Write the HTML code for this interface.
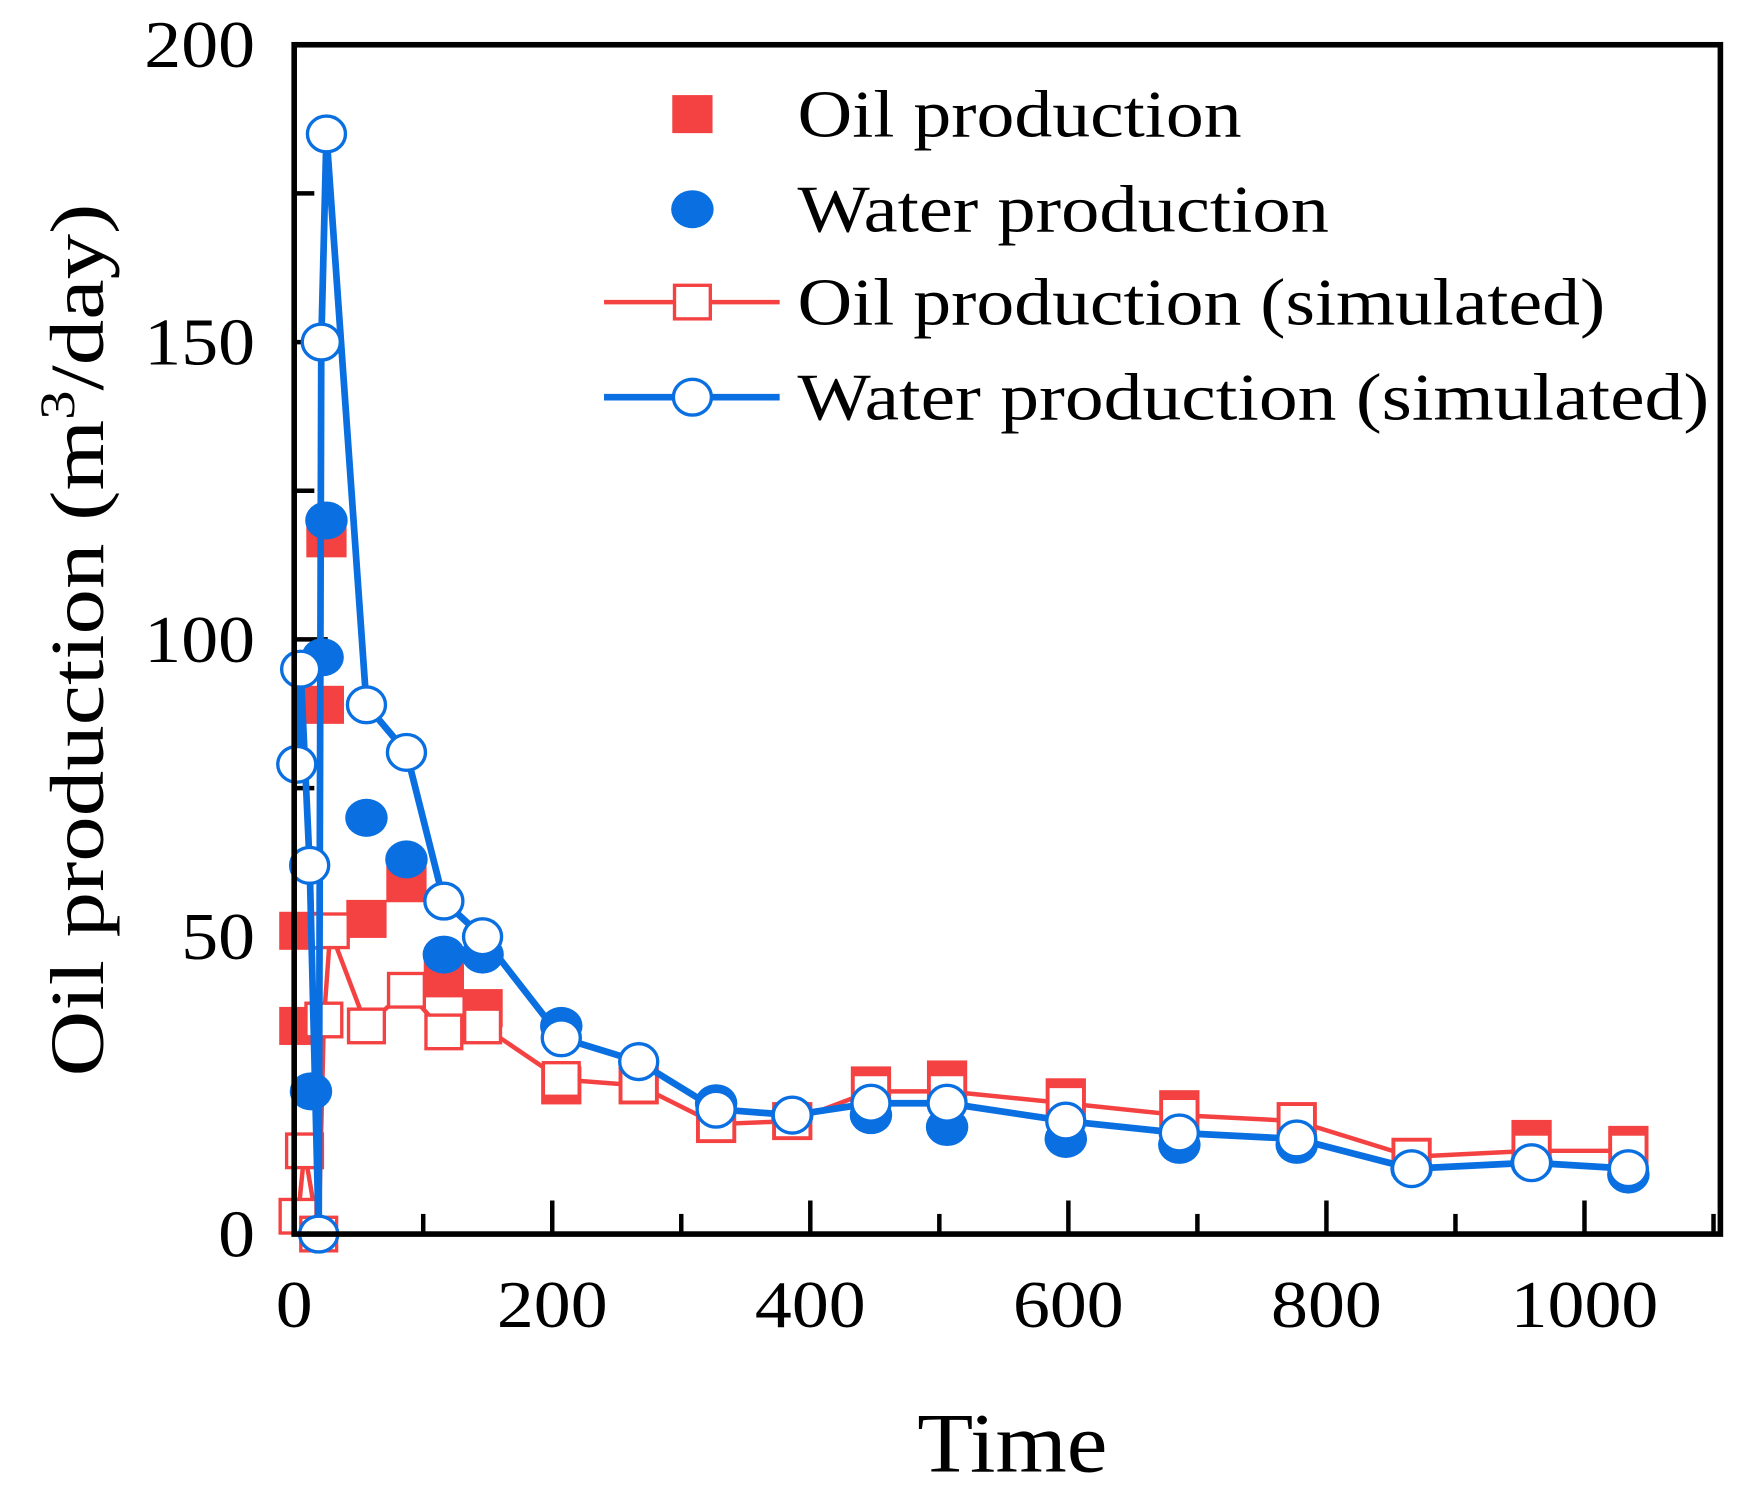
<!DOCTYPE html>
<html><head><meta charset="utf-8"><style>
html,body{margin:0;padding:0;background:#fff}
svg{display:block}
text{font-family:"Liberation Serif",serif;fill:#000}
</style></head><body>
<svg id="chart" width="1745" height="1497" viewBox="0 0 1560 1338" preserveAspectRatio="none" xmlns="http://www.w3.org/2000/svg">
<g id="plot"></g>
</svg>
<script>
const simWaterT=[2,5,12,19,21,25,56,87,116,146,207,267,327,386,447,506,598,686,777,866,959,1034];
const simWaterV=[79,95,62,0,150,185,89,81,56,50,33,29,21,20,22,22,19,17,16,11,12,11];
const simOilT=[3,8,19,23,28,56,87,116,146,207,267,327,386,447,506,598,686,777,866,959,1034];
const simOilV=[3,14,0,36,51,35,41,34,35,26,25,18.5,19,24,24,22,20,19,13,14,14];
const obsOilT=[4,4,23,25,56,87,116,146,207,267,327,386,447,506,598,686,777,866,959,1034];
const obsOilV=[35,51,89,117,53,59,43,38,25,25,18.5,19,25,26,23,21,19,13,16,15];
const obsWaterT=[13,22,25,56,87,116,146,207,327,386,447,506,598,686,777,866,959,1034];
const obsWaterV=[24,97,120,70,63,47,47,35,22,20,20,18,16,15,15,11,12,10];
const xTicks=[0,200,400,600,800,1000];
const yTicks=[0,50,100,150,200];

const L=263,R=1538,T=40,B=1103;
const sx=t=>L+t*1.1535;
const sy=v=>B-(v/200)*(B-T);
const NS="http://www.w3.org/2000/svg";
const g=document.getElementById('plot');
function mk(tag,attrs,parent){const e=document.createElementNS(NS,tag);for(const k in attrs)e.setAttribute(k,attrs[k]);(parent||g).appendChild(e);return e;}
const RED="#f44242",BLUE="#0a6fe0";

for(let v=0;v<=200;v+=25){const t=mk('line',{x1:L,x2:L+(v%50===0?30:18),y1:sy(v),y2:sy(v),stroke:'#000','stroke-width':4});

}
for(let x=0;x<=1100;x+=100){const t=mk('line',{x1:sx(x),x2:sx(x),y1:B,y2:B-(x%200===0?30:18),stroke:'#000','stroke-width':4});

}
yTicks.forEach(v=>{const s=String(v);const t=mk('text',{x:228,y:sy(v)+20,'font-size':60,'text-anchor':'end',textLength:s.length*33,lengthAdjust:'spacingAndGlyphs'});t.textContent=s;

});
xTicks.forEach(v=>{const s=String(v);const t=mk('text',{x:sx(v),y:1186,'font-size':60,'text-anchor':'middle',textLength:s.length*33,lengthAdjust:'spacingAndGlyphs'});t.textContent=s;

});

function line(ts,vs,color,name){const p=mk('polyline',{points:ts.map((t,i)=>sx(t)+','+sy(vs[i])).join(' '),fill:'none',stroke:color,'stroke-width':color===BLUE?6:4,'stroke-linejoin':'round'});

}
line(simOilT,simOilV,RED,'oil-simulated-line');
obsOilT.forEach((t,i)=>{const r=mk('rect',{x:sx(t)-18,y:sy(obsOilV[i])-17,width:36,height:34,fill:RED});

});
obsWaterT.forEach((t,i)=>{const c=mk('ellipse',{cx:sx(t),cy:sy(obsWaterV[i]),rx:19,ry:17,fill:BLUE});

});
simOilT.forEach((t,i)=>{const r=mk('rect',{x:sx(t)-16,y:sy(simOilV[i])-15,width:32,height:30,fill:'#fff',stroke:RED,'stroke-width':3});

});
line(simWaterT,simWaterV,BLUE,'water-simulated-line');
simWaterT.forEach((t,i)=>{const c=mk('ellipse',{cx:sx(t),cy:sy(simWaterV[i]),rx:17,ry:16,fill:'#fff',stroke:BLUE,'stroke-width':3});

});

const f=mk('rect',{x:L,y:T,width:R-L,height:B-T,fill:'none',stroke:'#000','stroke-width':5});



const leg=[['Oil production','sq',false,397],['Water production','ci',false,475],['Oil production (simulated)','sq',true,722],['Water production  (simulated)','ci',true,815]];
const ly=[102,187,270,355];
leg.forEach((l,i)=>{const col=l[1]==='sq'?RED:BLUE;
if(l[2]){const ln=mk('line',{x1:540,x2:697,y1:ly[i],y2:ly[i],stroke:col,'stroke-width':l[1]==='ci'?6:4});

}
let m;
if(l[1]==='sq'){m=l[2]?mk('rect',{x:603,y:ly[i]-15,width:32,height:30,fill:'#fff',stroke:col,'stroke-width':3}):mk('rect',{x:601,y:ly[i]-17,width:36,height:34,fill:col});}
else{m=l[2]?mk('ellipse',{cx:619,cy:ly[i],rx:17,ry:16,fill:'#fff',stroke:col,'stroke-width':3}):mk('ellipse',{cx:619,cy:ly[i],rx:19,ry:17,fill:col});}


const t=mk('text',{x:713,y:ly[i]+20,'font-size':60,'xml:space':'preserve',textLength:l[3],lengthAdjust:'spacingAndGlyphs'});t.textContent=l[0];

});

const yt=mk('text',{x:0,y:0,'font-size':68,'text-anchor':'middle',transform:'translate(92,572) rotate(-90)',textLength:780,lengthAdjust:'spacingAndGlyphs'});
yt.innerHTML='Oil production (m<tspan dy="-26" font-size="44">3</tspan><tspan dy="26">/day)</tspan>';


const xt=mk('text',{x:905,y:1315,'font-size':76,'text-anchor':'middle',textLength:170,lengthAdjust:'spacingAndGlyphs'});xt.textContent='Time';


</script>
</body></html>
